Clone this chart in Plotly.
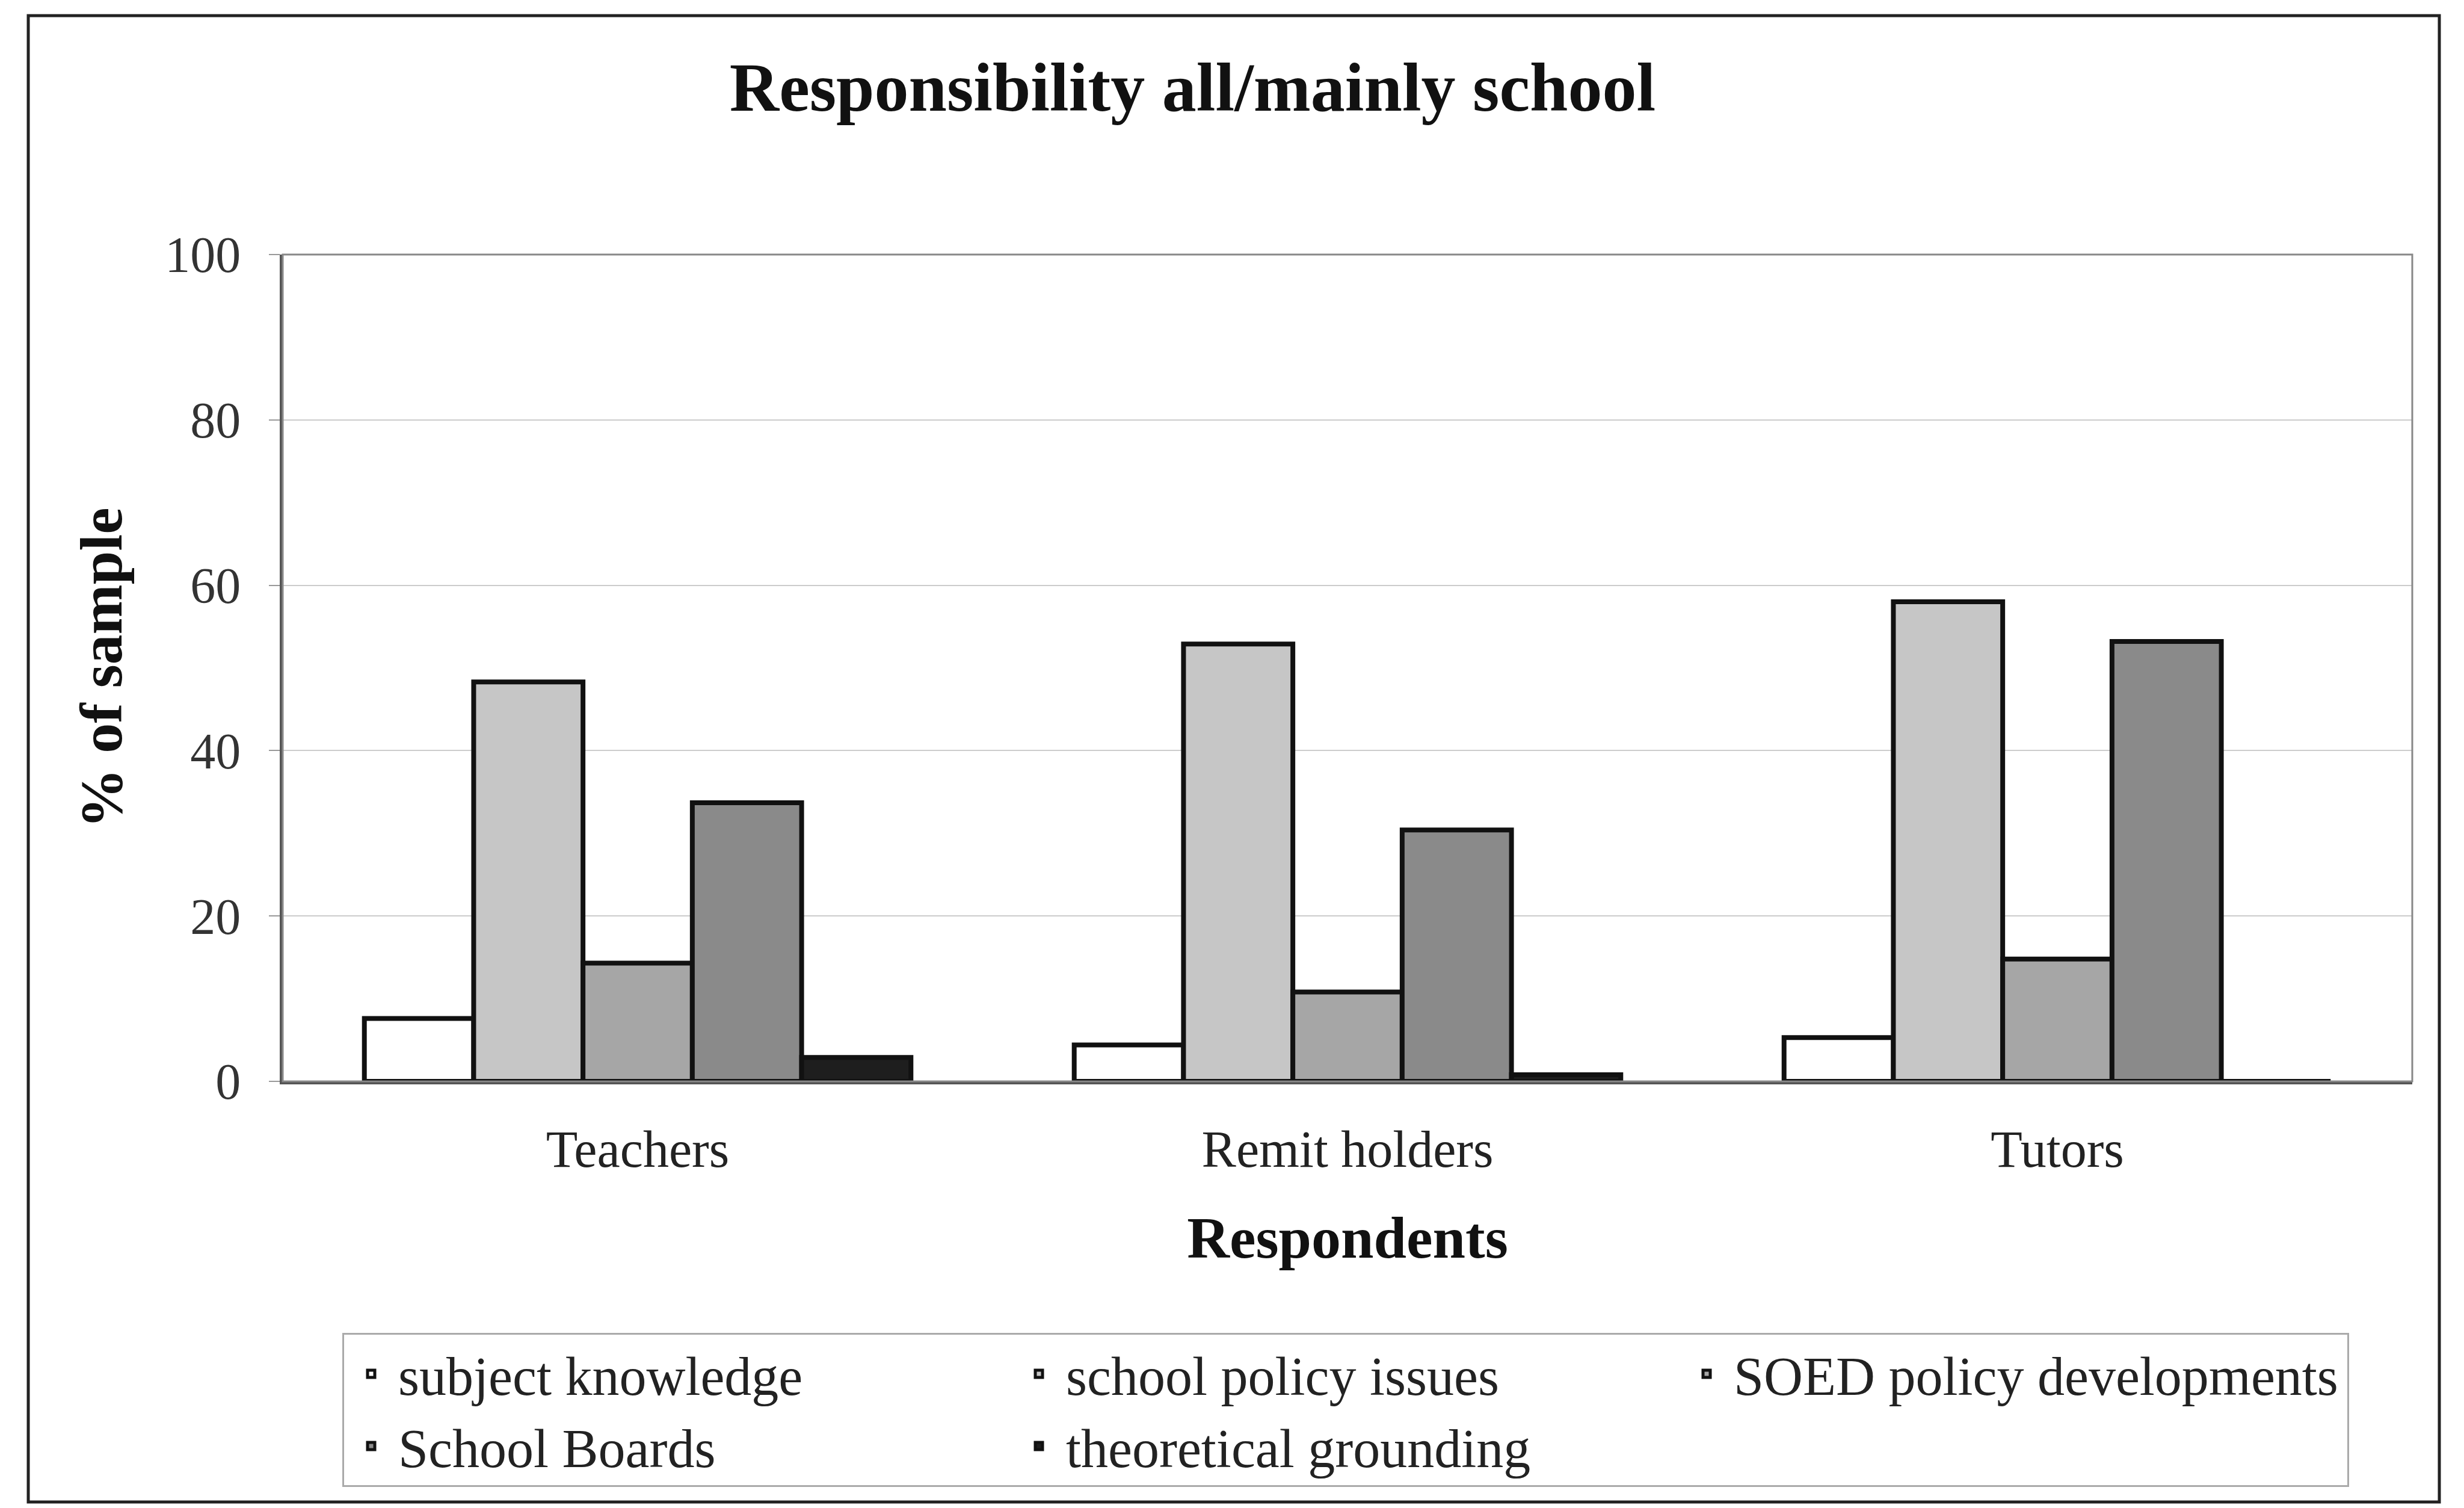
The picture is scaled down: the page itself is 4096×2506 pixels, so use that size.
import plotly.graph_objects as go

# ---- data ----
categories = ["Teachers", "Remit holders", "Tutors"]
series_names = ["subject knowledge", "school policy issues", "SOED policy developments",
                "School Boards", "theoretical grounding"]
subject_knowledge = [7.6, 4.4, 5.3]
school_policy_issues = [48.3, 52.9, 58.0]
soed_policy_developments = [14.3, 10.8, 14.8]
school_boards = [33.7, 30.4, 53.2]
theoretical_grounding = [2.9, 0.8, 0]
y_ticks = [0, 20, 40, 60, 80, 100]

series_values = [subject_knowledge, school_policy_issues, soed_policy_developments,
                 school_boards, theoretical_grounding]
colors = ["#ffffff", "#c6c6c6", "#a6a6a6", "#8a8a8a", "#1e1e1e"]

W, H = 4096, 2506
L, R, T, B = 470, 86, 423, 709
serif = "Liberation Serif, Times New Roman, serif"

fig = go.Figure()
for name, vals, col in zip(series_names, series_values, colors):
    fig.add_trace(go.Bar(
        x=categories, y=vals, name=name,
        marker=dict(color=col, line=dict(color="#111111", width=8)),
    ))

pw = W - L - R
ph = H - T - B
def px_x(p):
    return (p - L) / pw
def px_y(p):
    return (H - B - p) / ph

fig.update_layout(
    width=W, height=H,
    margin=dict(l=L, r=R, t=T, b=B),
    paper_bgcolor="white", plot_bgcolor="white",
    barmode="group", bargap=0.23, bargroupgap=0,
    font=dict(family=serif, color="#222222"),
    title=dict(text="<b>Responsibility all/mainly school</b>",
               x=0.484, xref="container", xanchor="center",
               y=1 - 144 / H, yref="container", yanchor="middle",
               font=dict(size=114, family=serif, color="#111111")),
    xaxis=dict(
        showline=True, linecolor="#555555", linewidth=5,
        ticks="", tickfont=dict(size=86, family=serif, color="#222222"),
        ticklabelstandoff=34,
        title=dict(text="<b>Respondents</b>", font=dict(size=98, family=serif, color="#111111"),
                   standoff=66),
    ),
    yaxis=dict(
        range=[0, 100], tickvals=y_ticks,
        showline=True, linecolor="#555555", linewidth=5,
        ticks="outside", ticklen=18, tickcolor="#999999", tickwidth=2,
        ticklabelstandoff=30,
        tickfont=dict(size=84, family=serif, color="#333333"),
        showgrid=True, gridcolor="#cccccc", gridwidth=2,
        zeroline=False,
        title=dict(text="<b>% of sample</b>", font=dict(size=100, family=serif, color="#111111"),
                   standoff=40),
    ),
    legend=dict(
        orientation="h", xref="container", yref="container",
        x=569 / W, y=1 - 2215 / H, xanchor="left", yanchor="top",
        font=dict(size=90, family=serif, color="#222222"),
        bgcolor="white", bordercolor="#aaaaaa", borderwidth=3,
        itemwidth=80,
        entrywidth=1015, entrywidthmode="pixels",
        traceorder="normal",
    ),
    shapes=[
        dict(type="rect", xref="x domain", yref="y domain", x0=0, x1=1, y0=0, y1=1,
             line=dict(color="#888888", width=3), layer="above"),
        dict(type="rect", xref="paper", yref="paper",
             x0=px_x(47), x1=px_x(4055), y0=px_y(2496), y1=px_y(26),
             line=dict(color="#222222", width=5)),
    ],
)

fig.write_html("out.html")
